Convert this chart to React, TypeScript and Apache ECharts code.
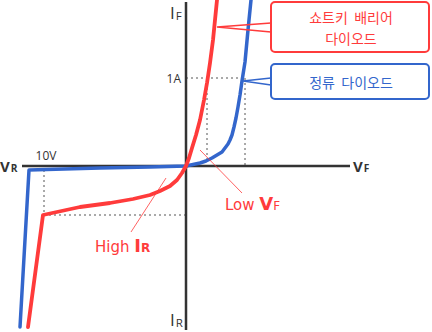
import React, { useEffect, useRef } from "react";
import * as echarts from "echarts";

// Diagram units: origin of the I-V plane at (0,0); x = voltage (arbitrary units), y = current (arbitrary units)
const schottkyX = [-158, -143, -106, -76, -53, -36, -26, -16, -9, -4, -2, 0, 3, 6, 10, 14, 18, 21, 24, 27, 30, 31];
const schottkyY = [-161, -49, -41, -37, -33, -29, -25, -20, -14, -7, -3.5, 0, 8, 18, 31, 46, 66, 83, 103, 126, 156, 166];
const rectX = [-166, -157, -86, -36, 0, 7, 14, 20, 26, 31, 36, 39, 42, 44, 46, 48, 50, 52, 54, 56, 59, 62, 65];
const rectY = [-161, -4, -2, -1, 0, 1.5, 3, 5, 8, 11, 14, 18, 22, 26, 31, 39, 48, 59, 71, 85, 104, 136, 166];
const axisExtent = 164;
const tenVolt = -142; // reverse voltage 10V position
const oneAmp = 88; // forward current 1A position
const schottkyAt1A = 21;
const rectAt1A = 59;
const schottkyAt10V = -49;
const seriesNames = ["쇼트키 배리어 다이오드", "정류 다이오드"];

const RED = "#ff3b3b";
const BLUE = "#3366cc";
const DARK = "#333333";

export default function App() {
  const ref = useRef<HTMLDivElement>(null);
  useEffect(() => {
    const chart = echarts.init(ref.current!, null, { renderer: "svg" });
    const zip = (xs: number[], ys: number[]) => xs.map((x, i) => [x, ys[i]]);
    const dash = (pts: number[][]) => ({
      type: "line",
      data: pts,
      symbol: "none",
      silent: true,
      lineStyle: { color: "#555", width: 1, type: [2, 3] },
      z: 1,
    });
    const font = "'Noto Sans CJK KR', 'Noto Sans', sans-serif";
    const latin = "'DejaVu Sans', 'Noto Sans', sans-serif";
    const subText = (x: number, y: number, main: string, sub: string, color: string, size: number, bold: boolean) => ({
      type: "text",
      x,
      y,
      style: {
        text: `{a|${main}}{b|${sub}}`,
        rich: {
          a: { fontSize: size, fontFamily: "'Open Sans', sans-serif", fill: color, fontWeight: bold ? "bold" : "normal", verticalAlign: "bottom", lineHeight: size + 2 },
          b: { fontSize: size * 0.68, fontFamily: "'Open Sans', sans-serif", fill: color, fontWeight: bold ? "bold" : "normal", verticalAlign: "bottom", lineHeight: size - 4, padding: [0, 0, 0, 1] },
        },
      },
      z: 10,
    });
    chart.setOption({
      animation: false,
      grid: { left: 0, right: 0, top: 0, bottom: 0 },
      xAxis: { type: "value", min: -186, max: 246, show: false },
      yAxis: { type: "value", min: -166, max: 166, show: false },
      series: [
        dash([[0, oneAmp], [rectAt1A, oneAmp]]),
        dash([[schottkyAt1A, oneAmp], [schottkyAt1A, 5]]),
        dash([[rectAt1A, oneAmp], [rectAt1A, 0]]),
        dash([[tenVolt, -4], [tenVolt, schottkyAt10V]]),
        dash([[tenVolt, schottkyAt10V], [0, schottkyAt10V]]),
        {
          type: "line",
          data: [[-axisExtent, 0], [axisExtent, 0]],
          symbol: "none",
          silent: true,
          lineStyle: { color: DARK, width: 2.5 },
          z: 2,
        },
        {
          type: "line",
          data: [[0, -axisExtent], [0, axisExtent]],
          symbol: "none",
          silent: true,
          lineStyle: { color: DARK, width: 2.5 },
          z: 2,
        },
        {
          name: seriesNames[1],
          type: "line",
          data: zip(rectX, rectY),
          symbol: "none",
          smooth: false,
          lineStyle: { color: BLUE, width: 3.5, cap: "round", join: "round" },
          z: 3,
        },
        {
          name: seriesNames[0],
          type: "line",
          data: zip(schottkyX, schottkyY),
          symbol: "none",
          smooth: false,
          lineStyle: { color: RED, width: 3.8, cap: "round", join: "round" },
          z: 4,
        },
      ],
      graphic: [
        // callout boxes
        { type: "rect", shape: { x: 271, y: 2, width: 158, height: 50, r: 4 }, style: { fill: "#fff", stroke: RED, lineWidth: 2 }, z: 5 },
        { type: "polyline", shape: { points: [[271, 23], [217, 27], [271, 32]] }, style: { stroke: RED, lineWidth: 1.5, fill: null }, z: 5 },
        { type: "text", x: 351, y: 17, style: { text: "쇼트키  배리어", fill: RED, font: `14px ${font}`, lineHeight: 20, align: "center", verticalAlign: "middle" }, z: 6 },
        { type: "text", x: 351, y: 37.5, style: { text: "다이오드", fill: RED, font: `14px ${font}`, lineHeight: 20, align: "center", verticalAlign: "middle" }, z: 6 },
        { type: "rect", shape: { x: 271, y: 64, width: 158, height: 35, r: 4 }, style: { fill: "#fff", stroke: BLUE, lineWidth: 2 }, z: 5 },
        { type: "polyline", shape: { points: [[271, 78], [243, 81], [271, 85]] }, style: { stroke: BLUE, lineWidth: 1.5, fill: null }, z: 5 },
        { type: "text", x: 351, y: 82, style: { text: "정류  다이오드", fill: BLUE, font: `14px ${font}`, align: "center", verticalAlign: "middle" }, z: 6 },
        // pointer lines for annotations
        { type: "line", shape: { x1: 200, y1: 150, x2: 242, y2: 193 }, style: { stroke: RED, lineWidth: 0.8 }, z: 6 },
        { type: "line", shape: { x1: 166, y1: 178, x2: 131, y2: 232 }, style: { stroke: RED, lineWidth: 0.8 }, z: 6 },
        // axis labels
        subText(170, 2, "I", "F", DARK, 17, false),
        subText(170, 309, "I", "R", DARK, 17, false),
        subText(0, 156, "V", "R", DARK, 15, true),
        subText(353, 156, "V", "F", DARK, 15, true),
        { type: "text", x: 181, y: 78, style: { text: "1A", fill: DARK, font: `12px 'Open Sans', sans-serif`, align: "right", verticalAlign: "middle" }, z: 6 },
        { type: "text", x: 46, y: 155, style: { text: "10V", fill: DARK, font: `12px 'Open Sans', sans-serif`, align: "center", verticalAlign: "middle" }, z: 6 },
        // annotations
        {
          type: "text",
          x: 225,
          y: 192,
          style: {
            text: "{a|Low }{v|V}{b|F}",
            rich: {
              a: { fontSize: 15, fontFamily: latin, fill: RED, verticalAlign: "bottom", lineHeight: 20 },
              v: { fontSize: 18, fontFamily: latin, fill: RED, fontWeight: "bold", verticalAlign: "bottom", lineHeight: 20 },
              b: { fontSize: 12, fontFamily: latin, fill: RED, verticalAlign: "bottom", lineHeight: 13 },
            },
          },
          z: 6,
        },
        {
          type: "text",
          x: 95,
          y: 234,
          style: {
            text: "{a|High }{v|I}{b|R}",
            rich: {
              a: { fontSize: 15, fontFamily: latin, fill: RED, verticalAlign: "bottom", lineHeight: 20 },
              v: { fontSize: 18, fontFamily: latin, fill: RED, fontWeight: "bold", verticalAlign: "bottom", lineHeight: 20 },
              b: { fontSize: 12, fontFamily: latin, fill: RED, fontWeight: "bold", verticalAlign: "bottom", lineHeight: 13 },
            },
          },
          z: 6,
        },
      ],
    });
    return () => chart.dispose();
  }, []);
  return <div ref={ref} style={{ position: "absolute", left: 0, top: 0, width: 432, height: 332, background: "#fff" }} />;
}
